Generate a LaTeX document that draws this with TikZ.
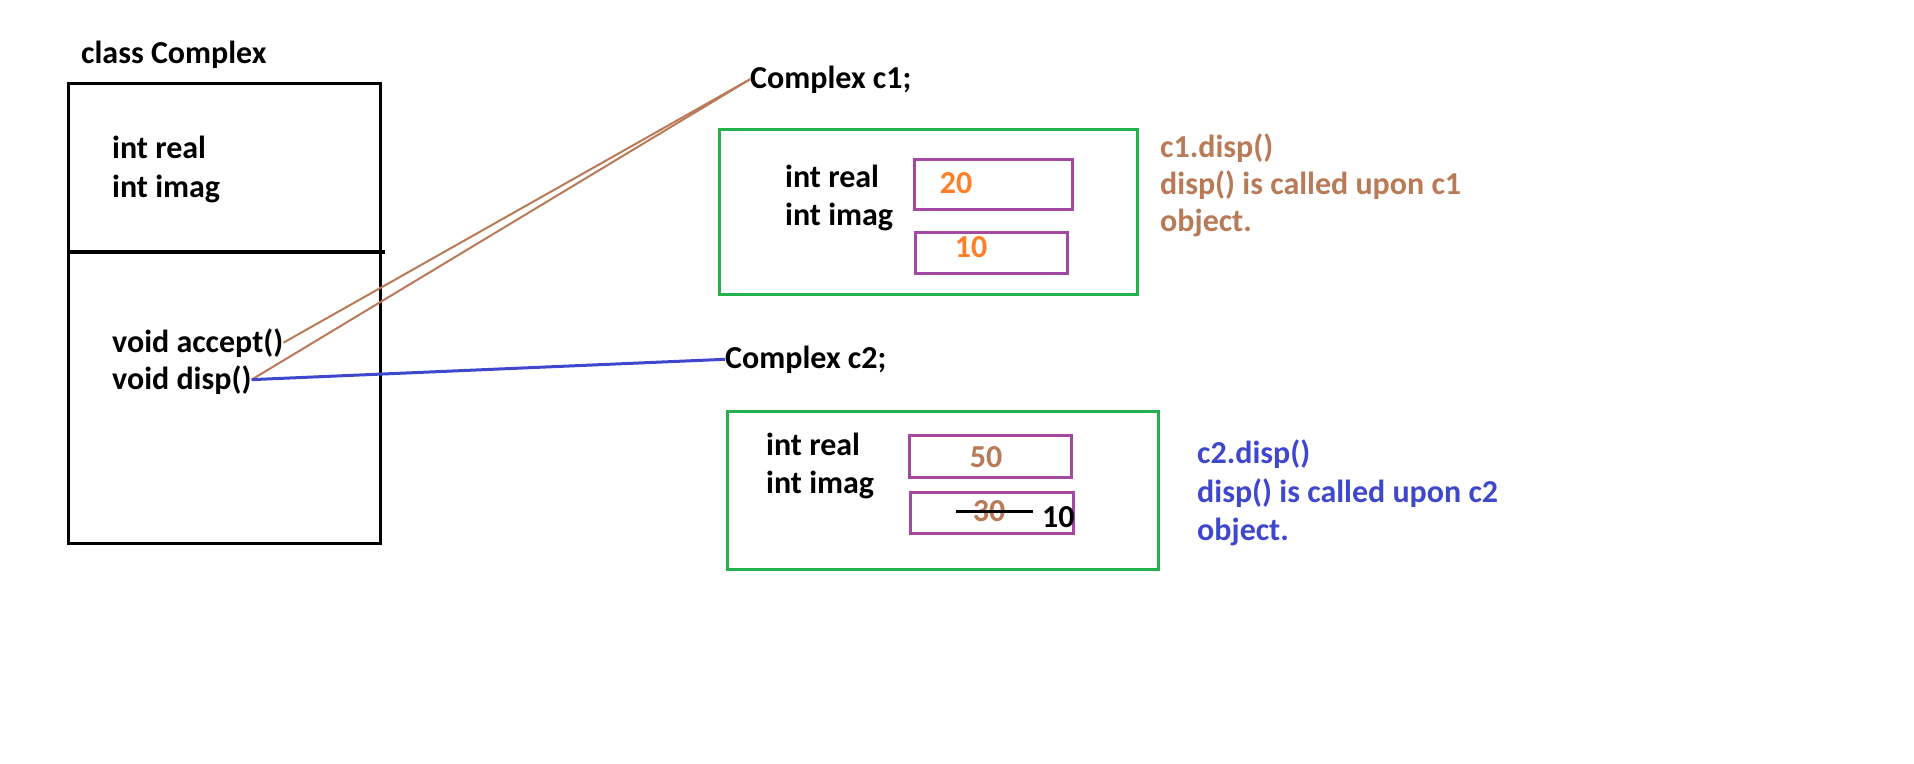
\documentclass[tikz,border=0pt]{standalone}
\usepackage{fontspec}
\setmainfont{Carlito}

\definecolor{pBrown}{RGB}{185,122,87}
\definecolor{pBlue}{RGB}{63,72,204}
\definecolor{pOrange}{RGB}{255,127,39}
\definecolor{pPurple}{RGB}{163,73,164}
\definecolor{pGreen}{RGB}{34,177,76}

\tikzset{
  txt/.style={font=\bfseries\fontsize{32}{38}\selectfont, anchor=base west, inner sep=0pt},
  num/.style={font=\bfseries\fontsize{32}{38}\selectfont, anchor=base, inner sep=0pt},
  slot/.style={pPurple, line width=3pt},
  objbox/.style={pGreen, line width=3pt},
}

\begin{document}
\begin{tikzpicture}[x=1pt, y=-1pt]
  \useasboundingbox (0,0) rectangle (1914,763);

  % ---- class ----
  \node[txt] (cxTitle) at (81,63) {class Complex};
  \draw[line width=3pt] (68,83) rectangle (380,543);
  \draw[line width=4.5pt] (68,252) -- (385,252);
  \node[txt] (memReal) at (112,158) {int real};
  \node[txt] (memImag) at (112,197) {int imag};
  \node[txt] (memAccept) at (112,352) {void accept()};
  \node[txt] (memDisp) at (112,389) {void disp()};

  % ---- object c1 ----
  \node[txt] (objA) at (750,88) {Complex c1;};
  \draw[objbox] (719,129) rectangle (1137,294);
  \node[txt] (aReal) at (785,187) {int real};
  \node[txt] (aImag) at (785,225) {int imag};
  \draw[slot] (914,159) rectangle (1072,209);
  \draw[slot] (915,232) rectangle (1067,273);
  \node[num, pOrange] (aRealVal) at (956,193) {20};
  \node[num, pOrange] (aImagVal) at (971,257) {10};

  % ---- object c2 ----
  \node[txt] (objB) at (725,368) {Complex c2;};
  \draw[objbox] (727,411) rectangle (1158,569);
  \node[txt] (bReal) at (766,455) {int real};
  \node[txt] (bImag) at (766,493) {int imag};
  \draw[slot] (909,435) rectangle (1071,477);
  \draw[slot] (910,492) rectangle (1073,533);
  \node[num, pBrown] (bRealVal) at (986,467) {50};
  \node[num, pBrown] (bImagOld) at (989,521) {30};
  \draw[line width=3pt] (956,511) -- (1033,511);
  \node[txt] (bImagNew) at (1042,527) {10};

  % ---- notes ----
  \node[txt, pBrown] (noteA1) at (1160,157) {c1.disp()};
  \node[txt, pBrown] (noteA2) at (1160,194) {disp() is called upon c1};
  \node[txt, pBrown] (noteA3) at (1160,231) {object.};
  \node[txt, pBlue] (noteB1) at (1197,463) {c2.disp()};
  \node[txt, pBlue] (noteB2) at (1197,502) {disp() is called upon c2};
  \node[txt, pBlue] (noteB3) at (1197,540) {object.};

  % ---- links ----
  \draw[pBrown, line width=2pt] (memAccept.east) -- (objA.west);
  \draw[pBrown, line width=2pt] (memDisp.east) -- (objA.west);
  \draw[pBlue, line width=3pt] (memDisp.east) -- (objB.west);

\end{tikzpicture}
\end{document}
